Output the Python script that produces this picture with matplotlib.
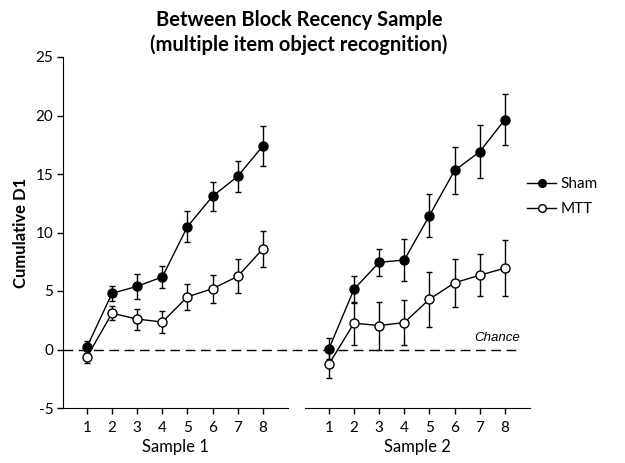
import matplotlib
matplotlib.use("Agg")
import matplotlib.pyplot as plt
from matplotlib.lines import Line2D

# data
trials = [1, 2, 3, 4, 5, 6, 7, 8]
sham_s1 = [0.2, 4.8, 5.4, 6.2, 10.5, 13.1, 14.8, 17.4]
sham_s1_err = [0.5, 0.65, 1.05, 0.95, 1.3, 1.25, 1.3, 1.7]
mtt_s1 = [-0.65, 3.1, 2.6, 2.35, 4.5, 5.2, 6.25, 8.6]
mtt_s1_err = [0.5, 0.6, 0.9, 0.9, 1.1, 1.2, 1.45, 1.55]
sham_s2 = [0.05, 5.15, 7.45, 7.65, 11.45, 15.3, 16.9, 19.65]
sham_s2_err = [0.9, 1.15, 1.15, 1.8, 1.85, 2.05, 2.25, 2.2]
mtt_s2 = [-1.25, 2.25, 2.05, 2.3, 4.3, 5.7, 6.35, 6.95]
mtt_s2_err = [1.15, 1.85, 2.05, 1.95, 2.35, 2.05, 1.8, 2.4]
yticks = [-5, 0, 5, 10, 15, 20, 25]

W, H = 625, 463
fig = plt.figure(figsize=(W / 100, H / 100), dpi=100)

def px(x0, x1, y0, y1):
    return [x0 / W, 1 - y1 / H, (x1 - x0) / W, (y1 - y0) / H]

ax1 = fig.add_axes(px(63, 288, 57, 408))
ax2 = fig.add_axes(px(305, 530, 57, 408))
ax2.patch.set_visible(False)

font = "Lato"

def draw(ax, sham, sham_err, mtt, mtt_err):
    ax.errorbar(trials, sham, yerr=sham_err, color="black", lw=1, elinewidth=1,
                capsize=2, capthick=1, marker="o", ms=6.5, mfc="black",
                mec="black", zorder=3)
    ax.errorbar(trials, mtt, yerr=mtt_err, color="black", lw=1, elinewidth=1,
                capsize=2, capthick=1, marker="o", ms=6.5, mfc="white",
                mec="black", mew=1, zorder=4)
    ax.set_xlim(0.05, 9.0)
    ax.set_ylim(-5, 25)
    ax.set_xticks(trials)
    ax.set_xticklabels([str(t) for t in trials], fontsize=11, family=font)
    for s in ["top", "right"]:
        ax.spines[s].set_visible(False)
    ax.tick_params(axis="x", direction="out", length=4, width=1, pad=5)

draw(ax1, sham_s1, sham_s1_err, mtt_s1, mtt_s1_err)
draw(ax2, sham_s2, sham_s2_err, mtt_s2, mtt_s2_err)

ax1.set_yticks(yticks)
ax1.set_yticklabels([str(v) for v in yticks], fontsize=11, family=font)
ax1.tick_params(axis="y", direction="out", length=4, width=1, pad=3)
ax1.set_ylabel("Cumulative D1", fontsize=12, fontweight="bold", family=font, labelpad=5)
ax1.set_xlabel("Sample 1", fontsize=12, family=font, labelpad=3)

ax2.spines["left"].set_visible(False)
ax2.set_yticks([])
ax2.set_xlabel("Sample 2", fontsize=12, family=font, labelpad=3)

# chance line across both panels
ax1.axhline(0, xmin=0, xmax=(519 - 63) / (288 - 63), color="black", lw=1,
            dashes=(7, 4), clip_on=False, zorder=1)
ax2.text(8.6, 0.45, "Chance", fontsize=9.5, style="italic", family="Liberation Sans",
         ha="right", va="bottom")

fig.text(299 / W, 1 - 20 / H, "Between Block Recency Sample", ha="center", va="center",
         fontsize=14.5, fontweight="bold", family=font)
fig.text(299 / W, 1 - 45 / H, "(multiple item object recognition)", ha="center", va="center",
         fontsize=14.5, fontweight="bold", family=font)

handles = [
    Line2D([], [], color="black", lw=1, marker="o", ms=5.5, mfc="black", mec="black"),
    Line2D([], [], color="black", lw=1, marker="o", ms=5.5, mfc="white", mec="black"),
]
fig.legend(handles, ["Sham", "MTT"], loc="upper left", bbox_to_anchor=(527 / W, 1 - 177 / H),
           frameon=False, borderpad=0, borderaxespad=0, handlelength=1.9,
           handletextpad=0.3, labelspacing=0.75, prop={"family": font, "size": 11})

fig.savefig("out.png", dpi=100)
